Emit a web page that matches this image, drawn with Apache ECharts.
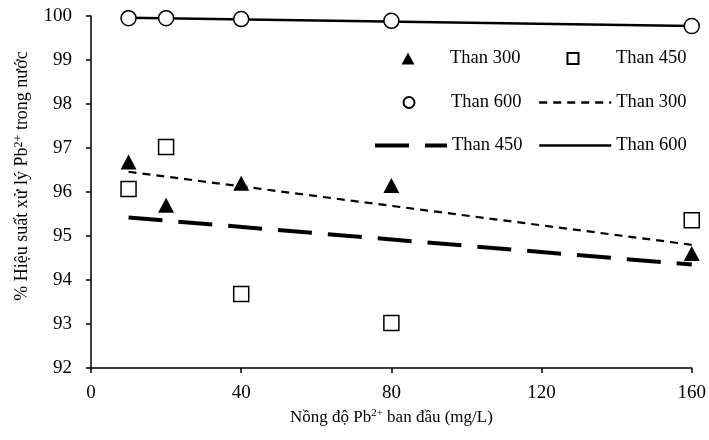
<!DOCTYPE html>
<html><head><meta charset="utf-8">
<script src="https://cdn.jsdelivr.net/npm/echarts@6/dist/echarts.min.js"></script>
<style>html,body{margin:0;padding:0;background:#fff}#c{width:709px;height:440px}</style>
</head><body><div id="c"></div>
<script>
var xValues = [10, 20, 40, 80, 160];
var than300 = [96.68, 95.70, 96.20, 96.15, 94.60];
var than450 = [96.07, 97.02, 93.68, 93.02, 95.36];
var than600 = [99.95, 99.95, 99.93, 99.89, 99.77];
var trendX = [10, 160];
var trend300 = [96.46, 94.80];
var trend450 = [95.42, 94.35];
var trend600 = [99.96, 99.77];
var xTicks = [0, 40, 80, 120, 160];
var yTicks = [92, 93, 94, 95, 96, 97, 98, 99, 100];

function pairs(xs, ys) { return xs.map(function (x, i) { return [x, ys[i]]; }); }
var FONT = '"Liberation Serif", "Times New Roman", serif';
var LEGFONT = 18.5;
var chart = echarts.init(document.getElementById('c'));

function symLeg(name, center, textLeft, top, w, h) {
  var left = center - w / 2;
  return {
    data: [name], left: left, top: top, padding: 0, itemWidth: w, itemHeight: h, itemGap: 0,
    selectedMode: false,
    formatter: function (n) { return n.trim(); },
    textStyle: { fontFamily: FONT, fontSize: LEGFONT, color: '#000', padding: [0, 0, 0, textLeft - (left + w + 5)] }
  };
}
function lineLeg(name, left, top, width) {
  return {
    data: [name], left: left, top: top, padding: 0, itemWidth: 72, itemHeight: 11, itemGap: 0,
    selectedMode: false,
    formatter: function (n) { return n.trim(); },
    itemStyle: { color: 'rgba(0,0,0,0)', borderColor: 'rgba(0,0,0,0)', borderWidth: 0 },
    lineStyle: { width: width },
    textStyle: { fontFamily: FONT, fontSize: LEGFONT, color: '#000' }
  };
}
var rowTop = [49, 93, 136];
var richName = {
  a: { fontFamily: FONT, fontSize: 17, color: '#000', lineHeight: 20 },
  s: { fontFamily: FONT, fontSize: 11, color: '#000', lineHeight: 20, verticalAlign: 'top', padding: [0, 0, 8, 0] }
};
var richNameY = {
  a: { fontFamily: FONT, fontSize: 18, color: '#000', lineHeight: 20 },
  s: { fontFamily: FONT, fontSize: 12, color: '#000', lineHeight: 20, verticalAlign: 'top', padding: [0, 0, 8, 0] }
};
chart.setOption({
  animation: false,
  backgroundColor: '#fff',
  grid: { left: 91, right: 17, top: 16, bottom: 72 },
  legend: [
    symLeg('Than 300', 408, 450, rowTop[0], 13, 12),
    symLeg('Than 450', 572, 615, rowTop[0], 11, 11),
    symLeg('Than 600', 408, 450, rowTop[1], 11, 11),
    lineLeg('Than 300 ', 538, rowTop[1], 2.4),
    lineLeg('Than 450 ', 373, rowTop[2], 4),
    lineLeg('Than 600 ', 538, rowTop[2], 2.5)
  ],
  xAxis: {
    type: 'value', min: 0, max: 160, interval: 40,
    splitLine: { show: false },
    axisLine: { lineStyle: { color: '#000', width: 1.5 } },
    axisTick: { length: 5, lineStyle: { color: '#000', width: 1.5 } },
    axisLabel: { fontFamily: FONT, fontSize: 19, color: '#000', margin: 16 },
    name: '{a|Nồng độ Pb}{s|2+}{a| ban đầu (mg/L)}',
    nameLocation: 'middle', nameGap: 40,
    nameTextStyle: { rich: richName }
  },
  yAxis: {
    type: 'value', min: 92, max: 100, interval: 1,
    splitLine: { show: false },
    axisLine: { show: true, lineStyle: { color: '#000', width: 1.5 } },
    axisTick: { show: true, length: 5, lineStyle: { color: '#000', width: 1.5 } },
    axisLabel: { fontFamily: FONT, fontSize: 19, color: '#000', margin: 19 },
    name: '{a|% Hiệu suất xử lý Pb}{s|2+}{a| trong nước}',
    nameLocation: 'middle', nameGap: 55,
    nameTextStyle: { rich: richNameY, padding: [0, 0, 0, 32] }
  },
  series: [
    { name: 'Than 300', type: 'scatter', symbol: 'triangle', symbolSize: [16, 15],
      itemStyle: { color: '#000', opacity: 1 }, data: pairs(xValues, than300), z: 5 },
    { name: 'Than 450', type: 'scatter', symbol: 'rect', symbolSize: 15,
      itemStyle: { color: '#fff', borderColor: '#000', borderWidth: 1.5, opacity: 1 }, data: pairs(xValues, than450), z: 5 },
    { name: 'Than 600', type: 'scatter', symbol: 'circle', symbolSize: 15,
      itemStyle: { color: '#fff', borderColor: '#000', borderWidth: 1.5, opacity: 1 }, data: pairs(xValues, than600), z: 5 },
    { name: 'Than 300 ', type: 'line', symbol: 'none', clip: false,
      lineStyle: { color: '#000', width: 2.2, type: [8, 6] }, itemStyle: { color: '#000' }, data: pairs(trendX, trend300), z: 3 },
    { name: 'Than 450 ', type: 'line', symbol: 'none', clip: false,
      lineStyle: { color: '#000', width: 4, type: [34, 16] }, itemStyle: { color: '#000' }, data: pairs(trendX, trend450), z: 3 },
    { name: 'Than 600 ', type: 'line', symbol: 'none', clip: false,
      lineStyle: { color: '#000', width: 2.5 }, itemStyle: { color: '#000' }, data: pairs(trendX, trend600), z: 3 }
  ]
});
</script></body></html>
